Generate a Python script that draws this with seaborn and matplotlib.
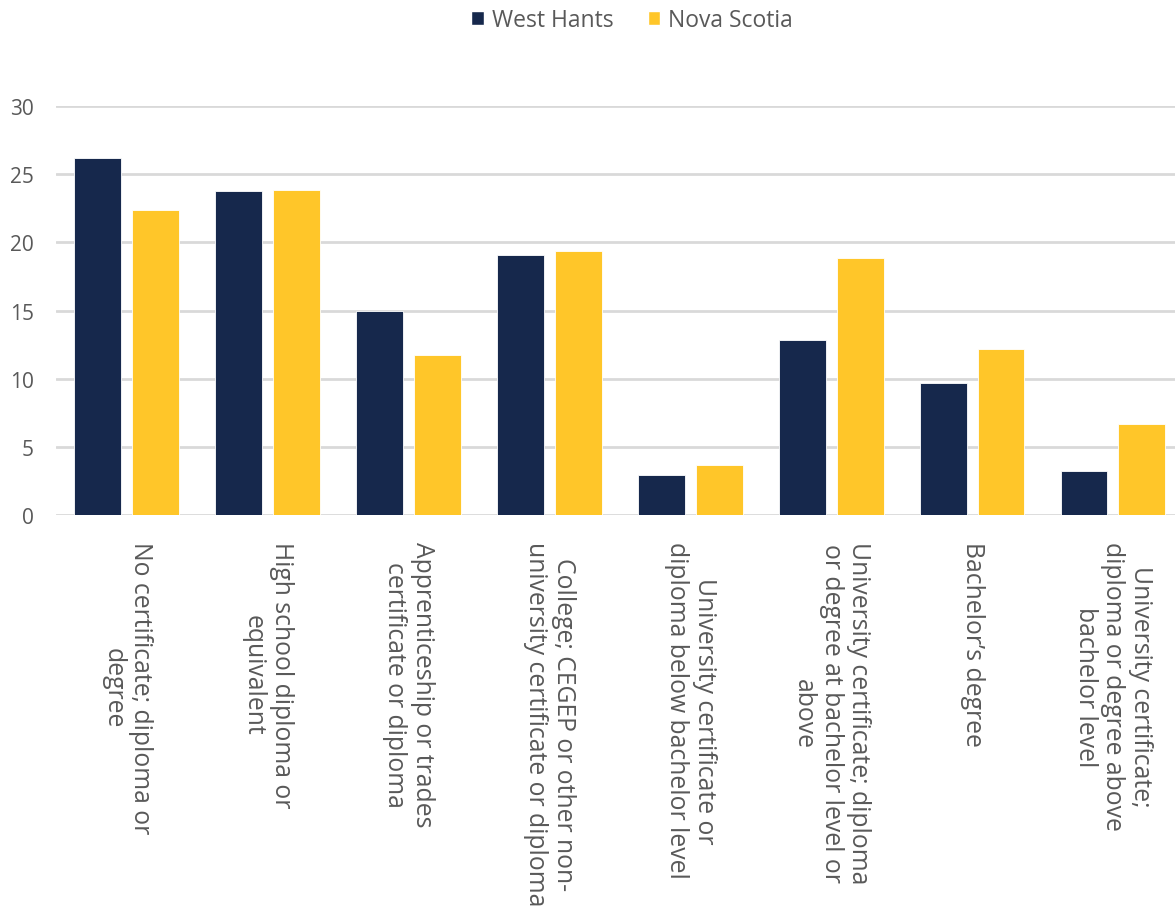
import matplotlib
matplotlib.use("Agg")
import matplotlib.pyplot as plt
from matplotlib.patches import Patch
import pandas as pd
import seaborn as sns

# ── Data ──────────────────────────────────────────────────────────────────────
categories = [
    "No certificate; diploma or\ndegree",
    "High school diploma or\nequivalent",
    "Apprenticeship or trades\ncertificate or diploma",
    "College; CEGEP or other non-\nuniversity certificate or diploma",
    "University certificate or\ndiploma below bachelor level",
    "University certificate; diploma\nor degree at bachelor level or\nabove",
    "Bachelor\u2019s degree",
    "University certificate;\ndiploma or degree above\nbachelor level",
]
west_hants = [26.2, 23.75, 15.0, 19.1, 2.95, 12.85, 9.65, 3.2]
nova_scotia = [22.35, 23.85, 11.7, 19.35, 3.7, 18.85, 12.2, 6.65]
series = ["West Hants", "Nova Scotia"]
y_ticks = [0, 5, 10, 15, 20, 25, 30]

# ── Style ─────────────────────────────────────────────────────────────────────
NAVY = "#16284C"
GOLD = "#FFC629"
TEXT = "#595959"
GRID = "#D9D9D9"

sns.set_theme(style="white")
plt.rcParams["font.family"] = ["Open Sans", "DejaVu Sans"]

df = pd.DataFrame({
    "category": categories * 2,
    "series": [series[0]] * len(categories) + [series[1]] * len(categories),
    "value": west_hants + nova_scotia,
})

fig = plt.figure(figsize=(11.75, 9.2), dpi=100)
ax = fig.add_axes([56 / 1175, 1 - 516 / 920, 1 - 56 / 1175, (516 - 107) / 920])

sns.barplot(
    data=df, x="category", y="value", hue="series",
    palette=[NAVY, GOLD], saturation=1, width=0.822, gap=0.19,
    edgecolor="white", linewidth=0.6, legend=False, ax=ax,
)

ax.set_ylim(0, 30)
ax.set_xlim(-0.5, 7.44)
ax.set_yticks(y_ticks)
ax.yaxis.grid(True, color=GRID, linewidth=2)
ax.set_axisbelow(True)
for side in ["top", "right", "left", "bottom"]:
    ax.spines[side].set_visible(False)
ax.set_xlabel("")
ax.set_ylabel("")
ax.tick_params(axis="y", length=0, pad=16, labelsize=15, labelcolor=TEXT)
ax.tick_params(axis="x", length=0, pad=19, labelsize=17.8, labelcolor=TEXT)
for lbl in ax.get_yticklabels():
    lbl.set_horizontalalignment("right")
for lbl in ax.get_xticklabels():
    lbl.set_rotation(270)
    lbl.set_multialignment("center")
    lbl.set_linespacing(1.14)

handles = [Patch(facecolor=NAVY, label=series[0]), Patch(facecolor=GOLD, label=series[1])]
fig.legend(
    handles=handles, loc="center", bbox_to_anchor=(0.538, 0.977), ncol=2,
    frameon=False, fontsize=16.5, labelcolor=TEXT, handlelength=0.55,
    handleheight=0.55, handletextpad=0.35, columnspacing=1.5,
)

fig.savefig("out.png", dpi=100, facecolor="white")
